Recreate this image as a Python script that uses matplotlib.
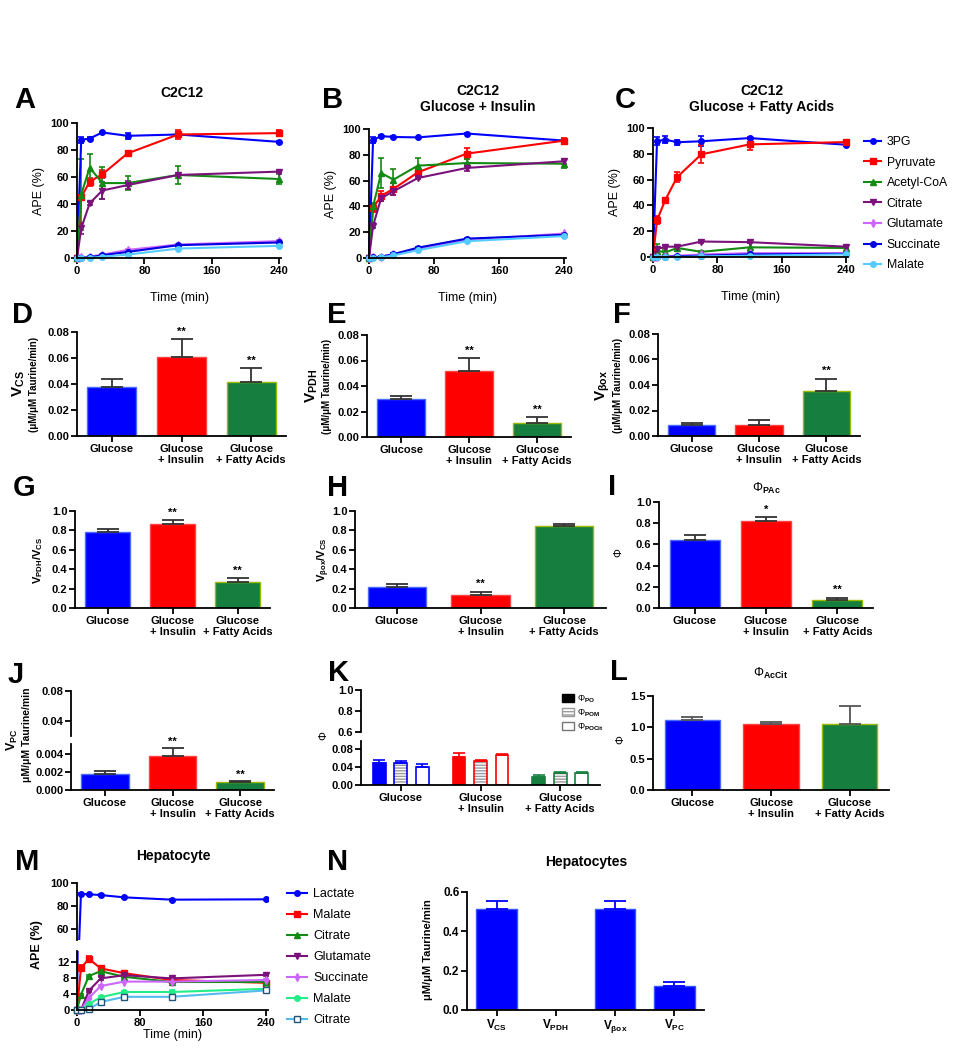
import numpy as np
import matplotlib
matplotlib.use("Agg")
import matplotlib.pyplot as plt
from matplotlib.patches import Patch
from matplotlib.lines import Line2D

plt.rcParams['font.family'] = ['Liberation Sans', 'DejaVu Sans']
plt.rcParams['font.weight'] = 'bold'
plt.rcParams['mathtext.fontset'] = 'custom'
plt.rcParams['mathtext.rm'] = 'Liberation Sans:bold'
plt.rcParams['mathtext.bf'] = 'Liberation Sans:bold'
plt.rcParams['mathtext.it'] = 'Liberation Sans:bold'
plt.rcParams['mathtext.default'] = 'bf'
plt.rcParams['axes.linewidth'] = 1.3
plt.rcParams['hatch.linewidth'] = 1.0

# data
time = [0, 5, 15, 30, 60, 120, 240]
c2c12_names = ['3PG', 'Pyruvate', 'Acetyl-CoA', 'Citrate', 'Glutamate', 'Succinate', 'Malate']

a_mean = [[0, 87.5, 88.5, 93, 90.5, 91.5, 86],
          [0, 45, 56.5, 62, 77.5, 91.5, 92.5],
          [0, 47, 67, 55.5, 55.5, 61.5, 58.5],
          [0, 22, 40.5, 50, 54, 61.5, 64],
          [0, 0.5, 1, 2.5, 6, 10, 12.5],
          [0, 0, 0.5, 2, 4.5, 9.5, 11.5],
          [0, 0, 0, 1, 2.5, 7, 9]]
a_err = [[0, 2, 1, 0.5, 2, 1, 0.5],
         [0, 2, 3, 3, 2, 3, 2],
         [0, 26, 10, 12, 5, 6.5, 4],
         [0, 4, 1, 6, 3, 1, 1],
         [0, 0.5, 0.5, 0.5, 0.5, 0.5, 0.5],
         [0, 0.5, 0.5, 0.5, 0.5, 0.5, 0.5],
         [0, 0.5, 0.5, 0.5, 0.5, 0.5, 0.5]]

b_mean = [[0, 91.5, 94.5, 93.8, 93.5, 96.5, 91],
          [0, 38.8, 48.3, 53.5, 66.4, 80.9, 91],
          [0, 40, 65.9, 60.7, 71.6, 73.6, 73.1],
          [0, 25, 46.5, 51.7, 62, 69.8, 75],
          [0, 0.5, 1, 3, 7, 14, 19],
          [0, 0.5, 1, 3, 8, 15, 18],
          [0, 0, 0.5, 2, 6, 13, 17]]
b_err = [[0, 2, 0.5, 0.5, 0.5, 0.5, 1],
         [0, 3, 4, 5, 3, 4, 2],
         [0, 3, 12, 8, 6, 3, 3],
         [0, 2, 2, 3, 1, 2.5, 2],
         [0, 0.5, 0.5, 0.5, 0.5, 0.5, 0.5],
         [0, 0.5, 0.5, 0.5, 0.5, 0.5, 0.5],
         [0, 0.5, 0.5, 0.5, 0.5, 0.5, 0.5]]

c_mean = [[0, 89.7, 91, 89, 89.7, 92.2, 87],
          [0, 28.4, 43.9, 62, 79.6, 87.3, 89.1],
          [0, 5, 3.5, 7, 4, 7.5, 7],
          [0, 6, 8, 8, 12, 11.5, 8],
          [0, 0, 0.5, 1, 2, 3, 3],
          [0, 0, 0, 0.5, 1, 2, 2.5],
          [0, 0, 0, 0, 0.5, 1, 2]]
c_err = [[0, 3, 3, 2, 4, 1, 1],
         [0, 3, 2, 4, 7, 4, 1.5],
         [0, 5, 2, 2, 1, 3, 2],
         [0, 1, 1, 1, 1, 1, 1],
         [0, 0.3, 0.3, 0.3, 0.3, 0.3, 0.3],
         [0, 0.3, 0.3, 0.3, 0.3, 0.3, 0.3],
         [0, 0.3, 0.3, 0.3, 0.3, 0.3, 0.3]]

groups = ['Glucose', 'Glucose\n+ Insulin', 'Glucose\n+ Fatty Acids']
v_cs = [0.038, 0.061, 0.0415]
v_cs_err = [0.0055, 0.0135, 0.0105]
v_pdh = [0.0295, 0.052, 0.011]
v_pdh_err = [0.003, 0.010, 0.0045]
v_box = [0.0085, 0.0088, 0.035]
v_box_err = [0.0015, 0.0035, 0.010]
pdh_cs = [0.78, 0.87, 0.265]
pdh_cs_err = [0.03, 0.035, 0.04]
box_cs = [0.215, 0.135, 0.845]
box_cs_err = [0.03, 0.035, 0.02]
phi_pac = [0.645, 0.82, 0.08]
phi_pac_err = [0.04, 0.035, 0.015]
v_pc = [0.0018, 0.0038, 0.00085]
v_pc_err = [0.0003, 0.0009, 0.0002]
phi_po = [0.049, 0.062, 0.018]
phi_po_err = [0.006, 0.009, 0.005]
phi_pom = [0.048, 0.054, 0.026]
phi_pom_err = [0.005, 0.002, 0.002]
phi_pocit = [0.041, 0.066, 0.027]
phi_pocit_err = [0.005, 0.004, 0.003]
phi_accit = [1.11, 1.05, 1.06]
phi_accit_err = [0.06, 0.035, 0.28]

hep_names = ['Lactate', 'Malate', 'Citrate', 'Glutamate', 'Succinate', 'Malate', 'Citrate']
hep_mean = [[0, 90.5, 90.2, 89.5, 87.5, 85.5, 85.8],
            [0, 10.5, 12.8, 10.4, 9.2, 7.5, 6.8],
            [0, 3.8, 8.5, 9.7, 8.3, 7.0, 7.0],
            [0, 0, 4.8, 7.9, 8.7, 7.9, 8.8],
            [0, 0, 3.0, 6.0, 7.1, 7.1, 7.5],
            [0, 0, 1.5, 3.2, 4.5, 4.5, 5.3],
            [0, 0, 0.2, 2.0, 3.3, 3.3, 4.9]]
hep_err = [[0, 0.5, 0.5, 0.5, 0.5, 0.5, 0.5],
           [0, 0.8, 0.8, 0.5, 0.5, 0.6, 0.6],
           [0, 0.3, 0.3, 0.3, 0.3, 0.3, 0.3],
           [0, 0.3, 0.3, 0.3, 0.3, 0.3, 0.3],
           [0, 0.2, 0.2, 0.2, 0.2, 0.2, 0.2],
           [0, 0.2, 0.2, 0.2, 0.2, 0.5, 0.2],
           [0, 0.2, 0.2, 0.2, 0.3, 0.4, 0.3]]

n_labels = ['V$_{CS}$', 'V$_{PDH}$', 'V$_{βox}$', 'V$_{PC}$']
n_vals = [0.515, 0.0, 0.515, 0.12]
n_err = [0.04, 0.0, 0.04, 0.02]

# styles
line_cols = ['#0000FF', '#FF0000', '#138A13', '#7B127B', '#CC66FF', '#0000E0', '#55CCFF']
line_mk = ['o', 's', '^', 'v', 'd', 'o', 'o']
hep_cols = ['#0000FF', '#FF0000', '#138A13', '#7B127B', '#CC66FF', '#22EE88', '#55BBEE']
hep_mk = ['o', 's', '^', 'v', 'd', 'o', 's']
bar_cols = ['#0000FF', '#FF0000', '#167F3F']
bar_edge = ['#4A6BFF', '#FF4444', '#9AB800']

W, H = 958, 1050
fig = plt.figure(figsize=(W / 100, H / 100), dpi=100)


def box(l, t, r, b):
    ax = fig.add_axes([l / W, 1 - b / H, (r - l) / W, (b - t) / H])
    ax.spines[['top', 'right']].set_visible(False)
    ax.tick_params(direction='out', length=4, width=1.3, labelsize=8, pad=1.5)
    return ax


def ftext(x, y, s, **kw):
    return fig.text(x / W, 1 - y / H, s, **kw)


def mstyle(c, mk):
    if mk == 's' and c == '#55BBEE':
        return 'white', '#225577'
    return c, c


def time_panel(ax, means, errs, cols, mks):
    for m, e, c, mk in zip(means, errs, cols, mks):
        mfc, mec = mstyle(c, mk)
        ax.errorbar(time, m, yerr=e, color=c, marker=mk, ms=4, mfc=mfc, mec=mec,
                    lw=1.5, elinewidth=1.2, capsize=2, capthick=1.2, clip_on=False)
    ax.set_xlim(0, 242)
    ax.set_xticks([0, 80, 160, 240])


def legend_handles(cols, mks):
    hs = []
    for c, mk in zip(cols, mks):
        mfc, mec = mstyle(c, mk)
        hs.append(Line2D([], [], color=c, marker=mk, ms=4, mfc=mfc, mec=mec, lw=1.5))
    return hs


def bar_panel(ax, vals, errs, stars, ylim, yticks, fmt, ecol='#333333'):
    x = np.arange(len(vals))
    ax.bar(x, vals, width=0.7, color=bar_cols, edgecolor=bar_edge, linewidth=1)
    ax.errorbar(x, vals, yerr=[np.zeros(len(vals)), errs], fmt='none', ecolor=ecol,
                elinewidth=1.3, capsize=8, capthick=1.3)
    for xi, v, e, s in zip(x, vals, errs, stars):
        if s:
            ax.text(xi, v + e + 0.025 * ylim[1], s, ha='center', va='bottom', fontsize=8)
    ax.set_xlim(-0.5, len(vals) - 0.5)
    ax.set_ylim(ylim)
    ax.set_yticks(yticks)
    ax.set_yticklabels([fmt % v for v in yticks])
    ax.set_xticks(x)
    ax.set_xticklabels(groups, fontsize=8, linespacing=1.15)


# A-C
tick100 = [0, 20, 40, 60, 80, 100]
ax_a = box(77, 123, 281, 258)
time_panel(ax_a, a_mean, a_err, line_cols, line_mk)
ax_b = box(369, 129, 566, 258)
time_panel(ax_b, b_mean, b_err, line_cols, line_mk)
ax_c = box(653, 128, 848, 257)
time_panel(ax_c, c_mean, c_err, line_cols, line_mk)
for ax in (ax_a, ax_b, ax_c):
    ax.set_ylim(0, 100)
    ax.set_yticks(tick100)
    ax.set_ylabel('APE (%)', fontsize=9, labelpad=4)
    ax.set_xlabel('Time (min)', fontsize=9, labelpad=12)
ax_c.legend(legend_handles(line_cols, line_mk), c2c12_names, loc='upper left',
            bbox_to_anchor=(864 / W, 1 - 136 / H), bbox_transform=fig.transFigure,
            frameon=False, handlelength=1.4, handletextpad=0.45, labelspacing=0.7,
            borderaxespad=0, borderpad=0, prop={'weight': 'normal', 'size': 8.8})
ftext(182, 93, 'C2C12', ha='center', va='center', fontsize=10)
ftext(478, 99, 'C2C12\nGlucose + Insulin', ha='center', va='center', fontsize=10, linespacing=1.1)
ftext(762, 99, 'C2C12\nGlucose + Fatty Acids', ha='center', va='center', fontsize=10, linespacing=1.1)

# D-F
ax_d = box(77, 332, 286, 436)
bar_panel(ax_d, v_cs, v_cs_err, ['', '**', '**'], (0, 0.08), [0, 0.02, 0.04, 0.06, 0.08], '%.2f')
ax_e = box(367, 335, 571, 437)
bar_panel(ax_e, v_pdh, v_pdh_err, ['', '**', '**'], (0, 0.08), [0, 0.02, 0.04, 0.06, 0.08], '%.2f')
ax_f = box(658, 334, 860, 436)
bar_panel(ax_f, v_box, v_box_err, ['', '', '**'], (0, 0.08), [0, 0.02, 0.04, 0.06, 0.08], '%.2f')
for x0, sub, yc in ((19, 'CS', 384), (312, 'PDH', 386), (603, 'βox', 385)):
    ftext(x0, yc, 'V$_{%s}$' % sub, rotation=90, ha='center', va='center', fontsize=11)
    ftext(x0 + 15, yc, '(μM/μM Taurine/min)', rotation=90, ha='center', va='center', fontsize=7)

# G-I
tick1 = [0, 0.2, 0.4, 0.6, 0.8, 1.0]
ax_g = box(75, 511, 270, 608)
bar_panel(ax_g, pdh_cs, pdh_cs_err, ['', '**', '**'], (0, 1.0), tick1, '%.1f')
ax_h = box(355, 511, 606, 608)
bar_panel(ax_h, box_cs, box_cs_err, ['', '**', ''], (0, 1.0), tick1, '%.1f')
ax_i = box(659, 502, 873, 608)
bar_panel(ax_i, phi_pac, phi_pac_err, ['', '*', '**'], (0, 1.0), tick1, '%.1f')
ftext(38, 560, 'V$_{PDH}$/V$_{CS}$', rotation=90, ha='center', va='center', fontsize=8)
ftext(324, 560, 'V$_{βox}$/V$_{CS}$', rotation=90, ha='center', va='center', fontsize=8)
ftext(618, 553, 'Φ', rotation=90, ha='center', va='center', fontsize=8, weight='normal')
ftext(766, 488, 'Φ$_{PAc}$', ha='center', va='center', fontsize=9, weight='normal')

# J (broken axis)
ax_jt = box(71, 691, 274, 736)
ax_jl = box(71, 744, 274, 790)
bar_panel(ax_jl, v_pc, v_pc_err, ['', '**', '**'], (0, 0.0051), [0, 0.002, 0.004], '%.3f')
ax_jt.bar(np.arange(3), v_pc, width=0.7, color=bar_cols)
ax_jt.set_xlim(-0.5, 2.5)
ax_jt.set_ylim(0.02, 0.08)
ax_jt.set_yticks([0.04, 0.08])
ax_jt.set_yticklabels(['0.04', '0.08'])
ax_jt.spines['bottom'].set_visible(False)
ax_jt.set_xticks([])
ftext(12, 740, 'V$_{PC}$', rotation=90, ha='center', va='center', fontsize=9)
ftext(27, 735, 'μM/μM Taurine/min', rotation=90, ha='center', va='center', fontsize=7.5)

# K (broken axis, grouped bars)
ax_kt = box(361, 690, 600, 732)
ax_kl = box(361, 741, 600, 785)
xk = np.arange(3)
off = 0.27
wk = 0.16
ax_kl.bar(xk - off, phi_po, width=wk, color=bar_cols, edgecolor=bar_cols, linewidth=1.2)
ax_kl.bar(xk, phi_pom, width=wk, color='white', edgecolor='#9A9A9A', hatch='------', linewidth=0)
ax_kl.bar(xk, phi_pom, width=wk, fill=False, edgecolor=bar_cols, linewidth=1.2)
ax_kl.bar(xk + off, phi_pocit, width=wk, color='white', edgecolor=bar_cols, linewidth=1.2)
for dx, v, e in ((-off, phi_po, phi_po_err), (0, phi_pom, phi_pom_err), (off, phi_pocit, phi_pocit_err)):
    for xi, vi, ei, c in zip(xk + dx, v, e, bar_cols):
        ax_kl.errorbar(xi, vi, yerr=[[0], [ei]], fmt='none', ecolor=c, elinewidth=1.2,
                       capsize=4, capthick=1.2)
ax_kl.set_xlim(-0.5, 2.5)
ax_kl.set_ylim(0, 0.098)
ax_kl.set_yticks([0, 0.04, 0.08])
ax_kl.set_yticklabels(['0.00', '0.04', '0.08'])
ax_kl.set_xticks(xk)
ax_kl.set_xticklabels(groups, fontsize=8, linespacing=1.15)
ax_kt.set_xlim(-0.5, 2.5)
ax_kt.set_ylim(0.6, 1.0)
ax_kt.set_yticks([0.6, 0.8, 1.0])
ax_kt.set_yticklabels(['0.6', '0.8', '1.0'])
ax_kt.spines['bottom'].set_visible(False)
ax_kt.set_xticks([])
k_handles = [Patch(facecolor='black', edgecolor='black'),
             Patch(facecolor='white', edgecolor='#9A9A9A', hatch='-----'),
             Patch(facecolor='white', edgecolor='#777777')]
ax_kt.legend(k_handles, ['Φ$_{PO}$', 'Φ$_{POM}$', 'Φ$_{POCit}$'], loc='upper left',
             bbox_to_anchor=(554 / W, 1 - 685 / H), bbox_transform=fig.transFigure, frameon=False,
             handlelength=1.3, handleheight=1.0, handletextpad=0.4, labelspacing=0.3,
             prop={'size': 6.5, 'weight': 'normal'})
ftext(323, 736, 'Φ', rotation=90, ha='center', va='center', fontsize=8, weight='normal')

# L
ax_l = box(653, 696, 889, 790)
bar_panel(ax_l, phi_accit, phi_accit_err, ['', '', ''], (0, 1.5), [0, 0.5, 1.0, 1.5], '%.1f', ecol='#555555')
ftext(620, 740, 'Φ', rotation=90, ha='center', va='center', fontsize=8, weight='normal')
ftext(770, 673, 'Φ$_{AcCit}$', ha='center', va='center', fontsize=9, weight='normal')

# M (broken axis)
ax_mt = box(77, 883, 268, 940)
ax_ml = box(77, 951, 268, 1010)
# lactate sits in the upper segment; its rise from 0 crosses the break
ax_ml.plot(time, hep_mean[0], color=hep_cols[0], lw=1.5)
time_panel(ax_ml, hep_mean[1:], hep_err[1:], hep_cols[1:], hep_mk[1:])
ax_mt.errorbar(time, hep_mean[0], yerr=hep_err[0], color=hep_cols[0], marker=hep_mk[0], ms=4,
               lw=1.5, elinewidth=1.2, capsize=2, capthick=1.2)
ax_mt.set_xlim(0, 242)
ax_mt.set_ylim(50.4, 100)
ax_mt.set_yticks([60, 80, 100])
ax_mt.spines['bottom'].set_visible(False)
ax_mt.set_xticks([])
ax_ml.set_ylim(0, 14.75)
ax_ml.set_yticks([0, 4, 8, 12])
ax_ml.set_xlabel('Time (min)', fontsize=9, labelpad=1)
ax_ml.legend(legend_handles(hep_cols, hep_mk), hep_names, loc='upper left',
             bbox_to_anchor=(287 / W, 1 - 888 / H), bbox_transform=fig.transFigure,
             frameon=False, handlelength=1.6, handletextpad=0.5, labelspacing=0.72,
             borderaxespad=0, borderpad=0, prop={'weight': 'normal', 'size': 9})
ftext(37, 945, 'APE (%)', rotation=90, ha='center', va='center', fontsize=9)
ftext(173, 856, 'Hepatocyte', ha='center', va='center', fontsize=10)

# N
ax_n = box(467, 892, 704, 1010)
xn = np.arange(4)
ax_n.bar(xn, n_vals, width=0.68, color='#0000FF', edgecolor='#3355FF')
nz = [i for i in xn if n_err[i] > 0]
ax_n.errorbar([xn[i] for i in nz], [n_vals[i] for i in nz], yerr=[[0] * len(nz), [n_err[i] for i in nz]],
              fmt='none', ecolor='#0000FF', elinewidth=1.3, capsize=8, capthick=1.3)
ax_n.set_xlim(-0.5, 3.5)
ax_n.set_ylim(0, 0.6)
ax_n.set_yticks([0, 0.2, 0.4, 0.6])
ax_n.set_yticklabels(['0.0', '0.2', '0.4', '0.6'])
ax_n.set_xticks(xn)
ax_n.set_xticklabels(n_labels, fontsize=9)
ax_n.tick_params(labelsize=8.5)
ftext(428, 950, 'μM/μM Taurine/min', rotation=90, ha='center', va='center', fontsize=8)
ftext(586, 862, 'Hepatocytes', ha='center', va='center', fontsize=10)

# panel letters
letters = [('A', 14, 100), ('B', 322, 100), ('C', 615, 100),
           ('D', 12, 315), ('E', 327, 315), ('F', 613, 315),
           ('G', 13, 488), ('H', 327, 488), ('I', 608, 487),
           ('J', 8, 675), ('K', 328, 673), ('L', 610, 672),
           ('M', 15, 862), ('N', 327, 862)]
for s, x, y in letters:
    ftext(x, y, s, ha='left', va='center', fontsize=21)

fig.savefig('out.png', dpi=100)
